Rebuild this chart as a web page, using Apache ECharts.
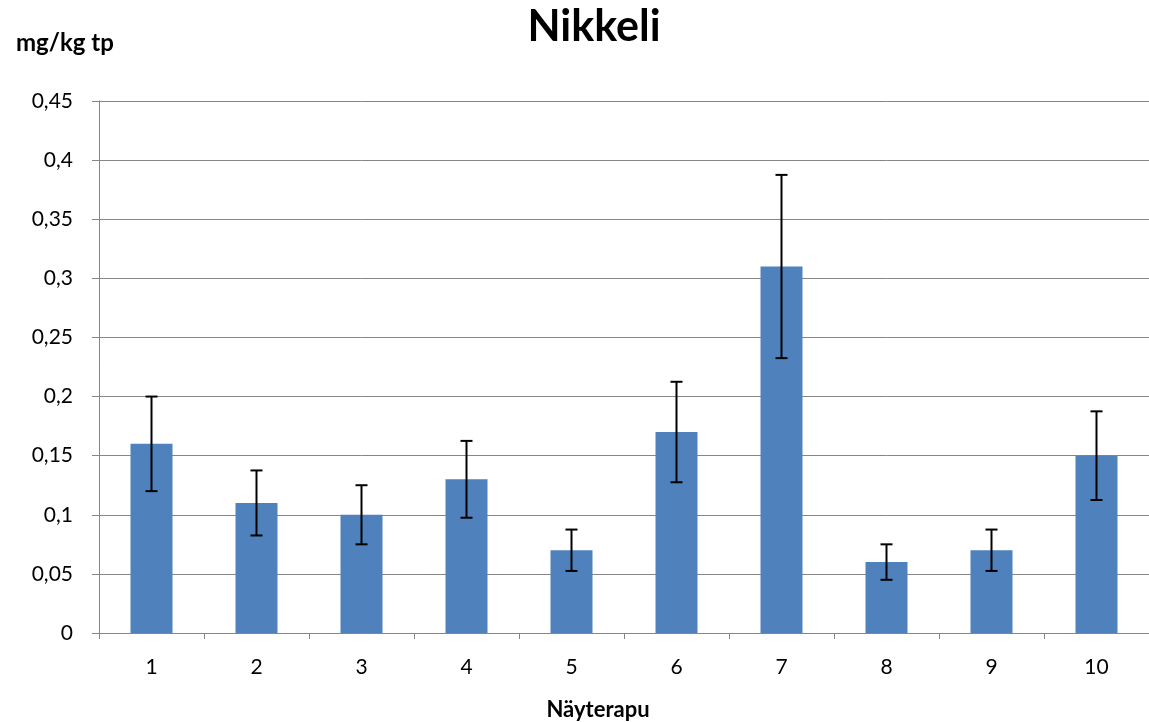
<!DOCTYPE html>
<html>
<head>
<meta charset="utf-8">
<script src="https://cdn.jsdelivr.net/npm/echarts@6/dist/echarts.min.js"></script>
<style>html,body{margin:0;padding:0;background:#fff;}#c{width:1149px;height:722px;}</style>
</head>
<body>
<div id="c"></div>
<script>
const categories = ['1','2','3','4','5','6','7','8','9','10'];
const values = [0.16, 0.11, 0.10, 0.13, 0.07, 0.17, 0.31, 0.06, 0.07, 0.15];
const errLow = [0.12, 0.0825, 0.075, 0.0975, 0.0525, 0.1275, 0.2325, 0.045, 0.0525, 0.1125];
const errHigh = [0.20, 0.1375, 0.125, 0.1625, 0.0875, 0.2125, 0.3875, 0.075, 0.0875, 0.1875];
const yTicks = { min: 0, max: 0.45, interval: 0.05 };

const FONT = 'Lato, "Open Sans", sans-serif';
const chart = echarts.init(document.getElementById('c'));
const errData = categories.map((c, i) => [i, errLow[i], errHigh[i]]);

chart.setOption({
  animation: false,
  backgroundColor: '#fff',
  title: {
    text: 'Nikkeli', left: 589, top: 1, textAlign: 'center',
    textStyle: { fontFamily: FONT, fontWeight: 'bold', fontSize: 43, color: '#000' }
  },
  graphic: [
    {
      type: 'text', left: 16, top: 31,
      style: { text: 'mg/kg tp', fontFamily: FONT, fontWeight: 'bold', fontSize: 24, fill: '#000' }
    },
    {
      type: 'text', x: 598, y: 710,
      style: { text: 'Näyterapu', fontFamily: FONT, fontWeight: 'bold', fontSize: 22, fill: '#000',
               textAlign: 'center', textVerticalAlign: 'middle' }
    }
  ],
  grid: { left: 99, top: 101, width: 1052, height: 532 },
  xAxis: {
    type: 'category', data: categories,
    axisLine: { lineStyle: { color: '#868686', width: 1 } },
    axisTick: { show: true, length: 6, lineStyle: { color: '#868686' } },
    axisLabel: { fontFamily: FONT, fontSize: 21, color: '#000', margin: 24 }
  },
  yAxis: {
    type: 'value', min: yTicks.min, max: yTicks.max, interval: yTicks.interval,
    axisLine: { show: true, lineStyle: { color: '#868686', width: 1 } },
    axisTick: { show: true, length: 7, lineStyle: { color: '#868686' } },
    splitLine: { lineStyle: { color: '#868686', width: 1 } },
    axisLabel: {
      fontFamily: FONT, fontSize: 21, color: '#000', margin: 26,
      formatter: v => String(parseFloat(v.toFixed(4))).replace('.', ',')
    }
  },
  series: [
    {
      type: 'bar', data: values, barWidth: 42,
      itemStyle: { color: '#4F81BD' }
    },
    {
      type: 'custom', data: errData, z: 10,
      renderItem: function (params, api) {
        const x = api.value(0);
        const lo = api.coord([x, api.value(1)]);
        const hi = api.coord([x, api.value(2)]);
        const hw = 6;
        const st = { stroke: '#000', lineWidth: 2 };
        return {
          type: 'group',
          children: [
            { type: 'line', shape: { x1: lo[0], y1: lo[1], x2: hi[0], y2: hi[1] }, style: st },
            { type: 'line', shape: { x1: lo[0] - hw, y1: lo[1], x2: lo[0] + hw, y2: lo[1] }, style: st },
            { type: 'line', shape: { x1: hi[0] - hw, y1: hi[1], x2: hi[0] + hw, y2: hi[1] }, style: st }
          ]
        };
      }
    }
  ]
});
</script>
</body>
</html>
